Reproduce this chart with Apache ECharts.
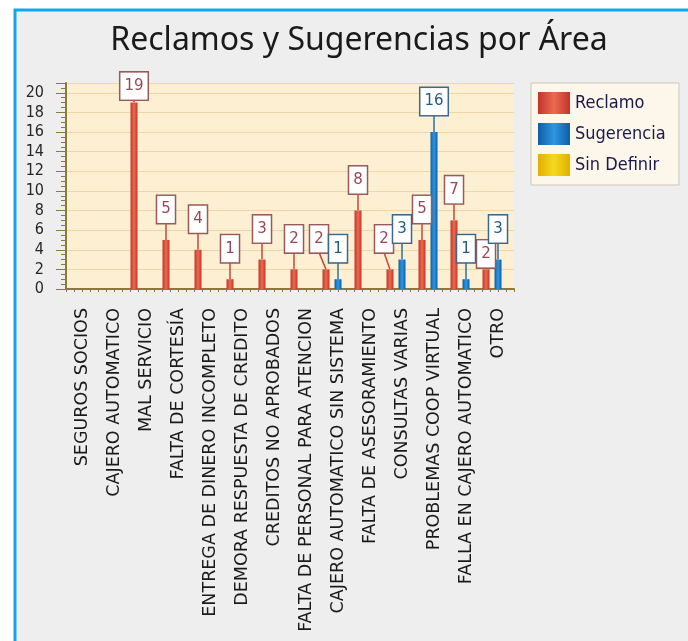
<!DOCTYPE html>
<html>
<head>
<meta charset="utf-8">
<script src="https://cdn.jsdelivr.net/npm/echarts@6/dist/echarts.min.js"></script>
<style>
  html, body { margin: 0; padding: 0; background: #ffffff; }
  #chart { width: 688px; height: 641px; }
</style>
</head>
<body>
<div id="chart"></div>
<script>
// categorías del eje X
const categories = [
  'SEGUROS SOCIOS', 'CAJERO AUTOMATICO', 'MAL SERVICIO', 'FALTA DE CORTESÍA',
  'ENTREGA DE DINERO INCOMPLETO', 'DEMORA RESPUESTA DE CREDITO', 'CREDITOS NO APROBADOS',
  'FALTA DE PERSONAL PARA ATENCION', 'CAJERO AUTOMATICO SIN SISTEMA', 'FALTA DE ASESORAMIENTO',
  'CONSULTAS VARIAS', 'PROBLEMAS COOP VIRTUAL', 'FALLA EN CAJERO AUTOMATICO', 'OTRO'
]
const reclamo    = [0, 0, 19, 5, 4, 1, 3, 2, 2, 8, 2, 5, 7, 2]
const sugerencia = [0, 0, 0, 0, 0, 0, 0, 0, 1, 0, 3, 16, 1, 3]
const sinDefinir = [0, 0, 0, 0, 0, 0, 0, 0, 0, 0, 0, 0, 0, 0]

// desplazamiento de etiquetas que se solapan (solo estilo)
const reclamoShift = { 2: [0, 14], 8: [-7, 0], 10: [-6, 0], 13: [0, 15] }

const BAR_W = 7, BAR_STEP = 12, LABEL_GAP = 17

const shade = (edge, mid) => ({
  type: 'linear', x: 0, y: 0, x2: 1, y2: 0,
  colorStops: [{ offset: 0, color: edge }, { offset: 0.5, color: mid }, { offset: 1, color: edge }]
})

function buildData(values, shift, text, border) {
  return values.map((v, i) => {
    const off = (shift && shift[i]) || [0, 0]
    return {
      value: v,
      label: {
        show: v > 0, position: 'top', distance: LABEL_GAP, offset: off,
        color: text, fontSize: 15, fontFamily: 'DejaVu Sans', lineHeight: 15,
        backgroundColor: '#ffffff', borderColor: border, borderWidth: 1.5, padding: [6, 4]
      }
    }
  })
}

// líneas guía entre la barra y su etiqueta
function leaderSeries(values, dx, shift, color) {
  return {
    type: 'custom', silent: true, z: 1,
    data: values.map((v, i) => [i, v]).filter(d => d[1] > 0),
    renderItem: (params, api) => {
      const i = api.value(0)
      const p = api.coord([i, api.value(1)])
      const off = (shift && shift[i]) || [0, 0]
      const x = p[0] + dx
      return {
        type: 'line',
        shape: { x1: x, y1: p[1], x2: x + off[0], y2: p[1] - LABEL_GAP + off[1] },
        style: { stroke: color, lineWidth: 1.5 }
      }
    }
  }
}

const chart = echarts.init(document.getElementById('chart'))
const axisCol = '#8c7a3a'

chart.setOption({
  animation: false,
  backgroundColor: '#ffffff',
  graphic: [
    { type: 'rect', z: -10, shape: { x: 15, y: 10, width: 700, height: 700 },
      style: { fill: '#eeeeee', stroke: '#12a6ee', lineWidth: 3 } },
    { type: 'rect', z: -5, shape: { x: 531, y: 83, width: 148, height: 102 },
      style: { fill: '#fdf6ea', stroke: '#cfc6b6', lineWidth: 1 } }
  ],
  title: {
    text: 'Reclamos y Sugerencias por Área', left: 354, top: 20, textAlign: 'center',
    textStyle: { fontSize: 32, fontWeight: 'normal', color: '#1a1a1a', fontFamily: 'Noto Sans' }
  },
  legend: {
    orient: 'vertical', left: 532, top: 83, padding: [9, 6],
    itemWidth: 32, itemHeight: 22, itemGap: 9, icon: 'rect',
    textStyle: { fontSize: 18, color: '#1a1a4a', fontFamily: 'DejaVu Sans Condensed' },
    data: ['Reclamo', 'Sugerencia', 'Sin Definir']
  },
  grid: { left: 66, top: 83, width: 448, height: 206, show: true, backgroundColor: '#fdefd2', borderWidth: 0 },
  xAxis: [
    {
      type: 'category', data: categories,
      axisLine: { lineStyle: { color: axisCol, width: 2 } },
      axisTick: { alignWithLabel: true, length: 6, lineStyle: { color: axisCol } },
      axisLabel: {
        rotate: 90, interval: 0, margin: 19, color: '#1a1a1a', fontSize: 17.5,
        fontFamily: 'DejaVu Sans'
      }
    },
    {
      type: 'value', min: 0, max: 56, interval: 1, position: 'bottom',
      axisLine: { show: false }, axisLabel: { show: false }, splitLine: { show: false },
      axisTick: { length: 3, lineStyle: { color: axisCol } }
    }
  ],
  yAxis: {
    type: 'value', min: 0, max: 21, interval: 2,
    axisLine: { show: true, lineStyle: { color: axisCol, width: 2 } },
    axisTick: { show: true, length: 10, lineStyle: { color: axisCol } },
    minorTick: { show: true, splitNumber: 4, length: 5, lineStyle: { color: axisCol } },
    axisLabel: {
      showMaxLabel: false, margin: 22, color: '#262626', fontSize: 16,
      fontFamily: 'DejaVu Sans Condensed'
    },
    splitLine: { show: true, lineStyle: { color: '#eed6a6', width: 1 } }
  },
  series: [
    {
      name: 'Reclamo', type: 'bar', barWidth: BAR_W, barGap: ((BAR_STEP - BAR_W) / BAR_W * 100) + '%', z: 2,
      itemStyle: { color: shade('#c2342a', '#ec6a50') },
      data: buildData(reclamo, reclamoShift, '#9a4656', '#9a5a5a')
    },
    {
      name: 'Sugerencia', type: 'bar', barWidth: BAR_W, z: 2,
      itemStyle: { color: shade('#0c5ea8', '#2e96e0') },
      data: buildData(sugerencia, null, '#1f5a8a', '#3a6a8a')
    },
    {
      name: 'Sin Definir', type: 'bar', barWidth: BAR_W, z: 2,
      itemStyle: { color: shade('#e2b000', '#f6d820') },
      data: buildData(sinDefinir, null, '#8a6a00', '#a08a40')
    },
    leaderSeries(reclamo, -BAR_STEP, reclamoShift, '#c04a3a'),
    leaderSeries(sugerencia, 0, null, '#2a70a8')
  ]
})
</script>
</body>
</html>
